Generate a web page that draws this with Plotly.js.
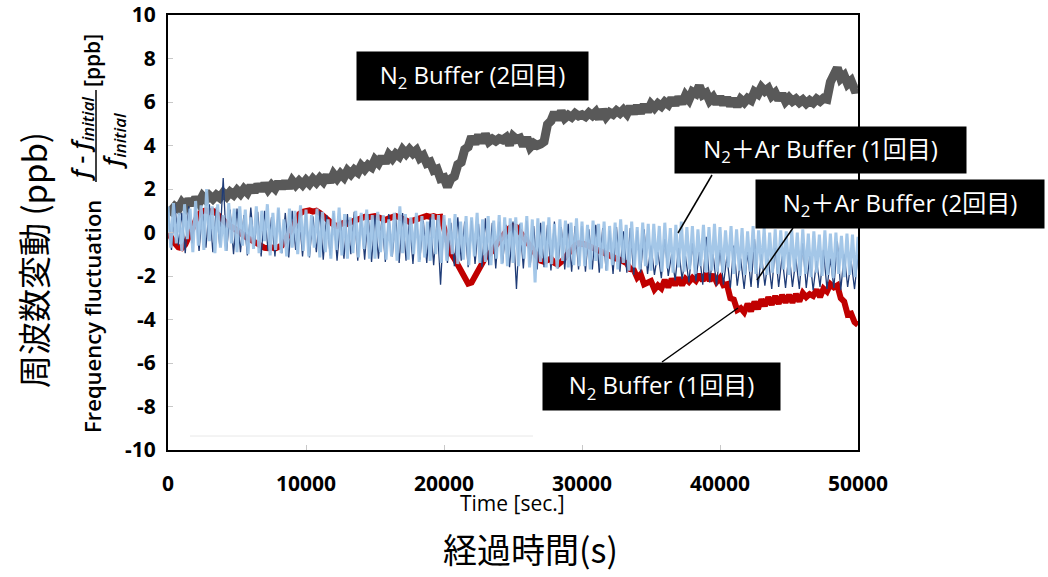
<!DOCTYPE html>
<html>
<head>
<meta charset="utf-8">
<script src="https://cdn.plot.ly/plotly-3.0.1.min.js"></script>
<style>html,body{margin:0;padding:0;background:#fff;}#chart{width:1048px;height:577px;}</style>
</head>
<body>
<div id="chart"></div>
<script>
// ---- data ----
// sample spacing in seconds for each series
const grayStep = 250;
const redStep = 250;
const darkStep = 250;
const lightStep = 200;

// N2 Buffer (2回目) – gray, every 250 s from 0 to 50000
const n2Buffer2 = [
  1.15,1.0,1.2,1.08,1.37,1.18,1.52,1.28,1.6,1.36,1.67,1.5,1.7,1.55,1.72,1.6,1.82,1.66,1.86,1.73,
  1.94,1.78,2.0,1.84,2.14,1.86,2.2,1.93,2.24,1.98,2.18,2.02,2.32,2.04,2.34,2.06,2.38,2.18,2.36,2.2,
  2.4,2.24,2.46,2.3,2.5,2.34,2.62,2.32,2.68,2.48,2.7,2.54,2.84,2.68,2.88,2.76,3.07,2.9,3.1,3.0,
  3.34,3.18,3.48,3.2,3.57,3.4,3.62,3.5,3.8,3.62,3.82,3.64,3.78,3.43,3.54,3.18,3.24,2.86,2.92,2.48,
  2.52,2.1,2.47,2.58,3.12,3.23,3.82,3.93,4.4,4.08,4.47,4.13,4.52,4.18,4.3,4.2,4.32,4.26,4.37,4.03,
  4.42,4.28,4.34,3.98,4.37,3.93,4.1,4.0,4.07,4.18,4.97,5.13,5.52,5.2,5.57,5.26,5.4,5.3,5.47,5.36,
  5.42,5.33,5.5,5.38,5.54,5.23,5.64,5.33,5.52,5.43,5.6,5.48,5.64,5.46,5.78,5.48,5.82,5.5,5.87,5.56,
  5.9,5.73,5.92,5.8,6.0,5.88,6.17,5.86,6.22,5.93,6.3,6.1,6.47,6.38,6.74,6.33,6.42,6.06,6.22,5.93,
  6.24,5.88,6.2,5.83,6.14,5.8,6.12,5.98,6.17,6.08,6.47,6.36,6.67,6.5,6.62,6.28,6.42,6.1,6.37,6.03,
  6.2,6.03,6.14,5.98,6.1,5.93,6.07,5.96,6.14,6.03,6.17,6.13,6.92,7.18,7.57,7.08,7.22,6.83,6.97,6.58,
  6.6
];

// N2 Buffer (1回目) – red, every 250 s
const n2Buffer1 = [
  0.0,-0.3,-0.5,-0.68,-0.72,-0.55,-0.25,0.15,0.55,0.85,0.98,1.02,0.95,1.0,0.88,0.7,0.55,0.42,0.3,0.22,
  0.1,0.0,-0.15,-0.25,-0.35,-0.45,-0.52,-0.6,-0.7,-0.72,-0.68,-0.74,-0.7,-0.6,-0.35,-0.05,0.3,0.6,0.85,0.95,
  1.0,1.02,0.96,1.0,0.9,0.75,0.6,0.45,0.35,0.3,0.38,0.45,0.4,0.5,0.55,0.6,0.68,0.72,0.7,0.76,
  0.75,0.7,0.62,0.58,0.65,0.72,0.76,0.7,0.6,0.52,0.48,0.55,0.62,0.68,0.74,0.76,0.72,0.75,0.7,0.72,
  0.2,-0.5,-0.95,-1.2,-1.5,-1.8,-2.1,-2.35,-2.3,-2.0,-1.7,-1.45,-1.15,-1.0,-0.85,-0.6,-0.35,-0.15,0.05,0.2,
  0.3,0.25,0.05,-0.2,-0.45,-0.65,-0.85,-1.1,-1.3,-1.35,-1.25,-1.2,-1.4,-1.48,-1.35,-1.15,-0.95,-0.75,-0.6,-0.5,
  -0.5,-0.55,-0.62,-0.7,-0.75,-0.85,-0.9,-0.98,-1.05,-1.12,-1.2,-1.25,-1.3,-1.42,-1.68,-1.72,-2.08,-1.92,-2.38,-2.3,
  -2.23,-2.62,-2.43,-2.57,-2.18,-2.52,-2.13,-2.42,-2.08,-2.42,-2.13,-2.27,-2.08,-2.22,-1.93,-2.22,-1.88,-2.22,-1.93,-2.27,
  -2.08,-2.42,-2.38,-3.02,-3.08,-3.57,-3.48,-3.67,-3.28,-3.62,-3.18,-3.52,-3.08,-3.37,-2.98,-3.32,-2.93,-3.27,-2.88,-3.22,
  -2.88,-3.22,-2.83,-3.17,-2.78,-2.97,-2.83,-2.92,-2.63,-2.97,-2.58,-2.72,-2.38,-2.52,-2.43,-3.02,-3.18,-3.77,-3.73,-4.12,
  -4.25
];

// N2＋Ar Buffer (2回目) – dark blue, every 250 s
const n2ArBuffer2 = [
  1.1,-0.8,1.3,-0.6,0.9,-0.95,1.2,-0.5,1.25,-0.85,1.0,-0.7,1.3,-0.9,1.15,-0.6,2.5,-0.85,1.05,-1.0,
  1.1,-0.9,0.8,-1.05,1.15,-0.7,0.95,-1.1,1.0,-0.85,0.7,-1.1,1.05,-0.95,0.9,-1.15,1.0,-0.8,0.85,-1.1,
  0.95,-1.15,0.75,-0.9,1.0,-1.25,0.8,-1.05,0.9,-1.3,0.6,-1.2,0.85,-1.0,0.95,-1.3,0.7,-1.25,0.85,-1.35,
  0.8,-1.2,0.65,-1.35,0.85,-1.1,0.7,-1.4,0.9,-1.3,0.6,-1.45,0.75,-1.25,0.55,-1.4,0.7,-1.5,0.6,-2.4,
  0.6,-1.4,0.45,-1.55,0.7,-1.3,0.5,-1.6,0.55,-1.45,0.4,-1.6,0.65,-1.5,0.45,-1.65,0.5,-1.4,0.35,-1.6,
  0.5,-2.6,0.4,-1.65,0.55,-1.5,0.3,-1.7,0.45,-1.6,0.35,-1.75,0.5,-1.65,0.25,-1.7,0.4,-1.8,0.3,-1.7,
  0.3,-1.8,0.15,-1.7,0.35,-1.85,0.2,-1.75,0.1,-1.9,0.25,-1.8,0.05,-1.85,0.2,-1.95,0.1,-1.85,0.15,-1.9,
  -0.6,-1.95,-0.9,-2.1,-0.3,-2.0,-1.0,-2.2,-0.7,-2.15,-1.1,-2.3,-0.5,-2.25,-0.9,-2.4,-0.2,-2.3,-1.0,-2.45,
  -0.8,-2.4,-1.1,-2.55,-0.6,-2.45,-1.2,-2.6,-0.9,-2.5,-0.3,-2.55,-1.0,-2.45,-1.2,-2.6,-0.7,-2.5,-1.1,-2.55,
  -0.9,-2.5,-1.2,-2.6,-0.5,-2.55,-1.1,-2.65,-1.3,-2.5,-0.8,-2.6,-1.2,-2.55,-0.4,-2.65,-1.0,-2.5,-1.3,-2.6,
  -1.0
];

// N2＋Ar Buffer (1回目) – light blue, every 200 s
const n2ArBuffer1 = [
  1.2,-0.7,1.35,-0.5,0.9,-0.85,1.3,-0.3,1.1,-0.9,1.45,-0.6,1.25,-0.8,2.0,-0.4,1.2,-0.95,1.3,-0.7,0.8,-0.85,1.35,-0.5,1.1,
  -0.9,1.2,-0.6,1.05,-1.0,0.7,-0.75,1.2,-0.95,1.0,-0.4,1.3,-1.05,0.9,-0.8,1.15,-0.95,0.6,-1.1,1.1,-0.7,1.0,-1.0,1.25,-0.85,
  1.05,-1.1,0.8,-0.7,1.1,-1.15,0.95,-0.9,0.6,-1.2,1.0,-0.8,1.15,-1.05,0.85,-1.2,0.7,-0.95,1.0,-1.15,0.9,-0.75,1.05,-1.2,0.8,
  -1.2,0.95,-0.9,0.8,-1.25,0.6,-1.1,0.9,-1.3,1.2,-0.95,0.85,-1.25,0.7,-1.0,0.9,-1.35,0.75,-1.15,0.5,-1.3,0.85,-1.0,0.8,-1.4,
  0.8,-1.3,0.65,-1.0,0.85,-1.45,0.5,-1.25,0.75,-1.5,0.7,-1.1,0.9,-1.4,0.6,-1.35,0.75,-1.5,0.55,-1.2,0.8,-1.45,0.7,-1.55,0.65,
  -1.4,0.7,-1.55,0.45,-1.2,0.75,-1.6,0.6,-2.3,0.65,-1.35,0.5,-1.6,0.7,-1.45,0.4,-1.65,0.6,-1.3,0.55,-1.6,0.45,-1.5,0.65,-1.55,
  0.5,-1.55,0.35,-1.7,0.55,-1.3,0.4,-1.65,0.5,-1.75,0.3,-1.5,0.45,-1.7,0.6,-1.4,0.35,-1.75,0.5,-1.6,0.25,-1.7,0.45,-1.55,0.4,
  -1.75,0.4,-1.5,0.3,-1.8,0.45,-1.65,0.2,-1.85,0.35,-1.6,0.5,-1.8,0.25,-1.7,0.3,-1.9,0.15,-1.55,0.35,-1.85,0.25,-1.75,0.4,-1.8,
  0.25,-1.85,0.1,-1.6,0.3,-1.9,0.15,-1.75,0.2,-1.95,0.05,-1.8,0.3,-1.9,0.1,-1.65,0.2,-1.95,0.0,-1.85,0.15,-1.9,0.1,-1.7,0.05,
  -1.95,0.1,-1.8,0.0,-2.0,0.15,-1.9,-0.05,-2.05,0.05,-1.85,-0.1,-2.0,0.1,-1.95,-0.05,-2.1,0.0,-1.9,-0.15,-2.05,-0.05,-1.95,-0.1,-2.05,
  -0.2
];

const yTickValues = [-10,-8,-6,-4,-2,0,2,4,6,8,10];
const xTickValues = [0,10000,20000,30000,40000,50000];

const labelN2Buffer2 = 'N<sub>2</sub> Buffer (2回目)';
const labelN2ArBuffer1 = 'N<sub>2</sub>＋Ar Buffer (1回目)';
const labelN2ArBuffer2 = 'N<sub>2</sub>＋Ar Buffer (2回目)';
const labelN2Buffer1 = 'N<sub>2</sub> Buffer (1回目)';

// ---- build ----
function timesFor(values, step){ return values.map((_, i) => i * step); }

const CJK = '"Noto Sans CJK JP", "Noto Sans", sans-serif';
const LAT = '"Open Sans", "Noto Sans CJK JP", sans-serif';

const traces = [
  {x: timesFor(n2Buffer2, grayStep), y: n2Buffer2, name: 'N2 Buffer (2回目)', mode: 'lines',
   line: {color: '#595959', width: 9}},
  {x: timesFor(n2Buffer1, redStep), y: n2Buffer1, name: 'N2 Buffer (1回目)', mode: 'lines',
   line: {color: '#C00000', width: 6}},
  {x: timesFor(n2ArBuffer2, darkStep), y: n2ArBuffer2, name: 'N2+Ar Buffer (2回目)', mode: 'lines',
   line: {color: '#1F3C77', width: 1.3}},
  {x: timesFor(n2ArBuffer1, lightStep), y: n2ArBuffer1, name: 'N2+Ar Buffer (1回目)', mode: 'lines',
   opacity: 0.93, line: {color: '#9DC3E6', width: 3}}
];

const L = 168, R = 190, T = 15, B = 127;
const PW = 1048 - L - R, PH = 577 - T - B;
const px = v => (v - L) / PW;
const py = v => (577 - B - v) / PH;

function boxNote(text, cx, cy, w, h){
  return {text, xref: 'paper', yref: 'paper', x: px(cx), y: py(cy), xanchor: 'center', yanchor: 'middle',
          showarrow: false, bgcolor: '#000', borderpad: 4, width: w - 8, height: h - 8,
          font: {family: LAT, size: 24, color: '#fff'}};
}
function rotNote(text, cx, cy, size, family, extra){
  return Object.assign({text, xref: 'paper', yref: 'paper', x: px(cx), y: py(cy), xanchor: 'center', yanchor: 'middle',
          showarrow: false, textangle: -90, font: Object.assign({family: family, size: size, color: '#000'}, extra || {})});
}
function seg(x0, y0, x1, y1, color, width){
  return {type: 'line', xref: 'paper', yref: 'paper', x0: px(x0), y0: py(y0), x1: px(x1), y1: py(y1),
          line: {color: color, width: width}};
}

const layout = {
  width: 1048, height: 577,
  margin: {l: L, r: R, t: T, b: B, pad: 0},
  paper_bgcolor: '#fff', plot_bgcolor: '#fff',
  showlegend: false,
  xaxis: {range: [0, 50000], tickvals: xTickValues, ticktext: xTickValues.map(String),
          showgrid: false, zeroline: false, showline: true, linecolor: '#000', linewidth: 2, mirror: true,
          ticks: 'inside', ticklen: 5, tickcolor: '#c8c8c8', tickwidth: 1, ticklabelstandoff: 14,
          ticklabeloverflow: 'allow',
          tickfont: {family: LAT, size: 21, color: '#000', weight: 'bold'}},
  yaxis: {range: [-10, 10], tickvals: yTickValues, ticktext: yTickValues.map(String),
          showgrid: false, zeroline: false, showline: true, linecolor: '#000', linewidth: 2, mirror: true,
          ticks: 'inside', ticklen: 5, tickcolor: '#c8c8c8', tickwidth: 1, ticklabelstandoff: 6,
          ticklabeloverflow: 'allow',
          tickfont: {family: LAT, size: 21, color: '#000', weight: 'bold'}},
  shapes: [
    seg(190, 436, 533, 436, '#e8e8e8', 1),
    seg(96, 182, 96, 90, '#000', 1.5),
    seg(712, 175, 678, 233, '#000', 1.5),
    seg(793, 228, 757, 280, '#000', 1.5),
    seg(662, 362, 738, 308, '#000', 1.5)
  ],
  annotations: [
    boxNote(labelN2Buffer2, 472.5, 76, 231, 48),
    boxNote(labelN2ArBuffer1, 820.5, 150, 291, 46),
    boxNote(labelN2ArBuffer2, 900, 204, 288, 48),
    boxNote(labelN2Buffer1, 661.5, 386.5, 237, 47),
    {text: 'Time [sec.]', xref: 'paper', yref: 'paper', x: px(512), y: py(503), xanchor: 'center', yanchor: 'middle',
     showarrow: false, font: {family: LAT, size: 21, color: '#000'}},
    {text: '経過時間(s)', xref: 'paper', yref: 'paper', x: px(530), y: py(548), xanchor: 'center', yanchor: 'middle',
     showarrow: false, font: {family: CJK, size: 34, color: '#000'}},
    rotNote('周波数変動 (ppb)', 33, 260, 33, CJK),
    rotNote('Frequency fluctuation', 92, 317, 22, LAT, {weight: 600}),
    rotNote('<i>f</i> - <i>f<sub>initial</sub></i>', 81, 139, 24, LAT, {weight: 600}),
    rotNote('<i>f<sub>initial</sub></i>', 113, 141, 24, LAT, {weight: 600}),
    rotNote('[ppb]', 92, 61, 21, LAT, {weight: 600})
  ]
};

Plotly.newPlot('chart', traces, layout, {displayModeBar: false, staticPlot: true});
</script>
</body>
</html>
